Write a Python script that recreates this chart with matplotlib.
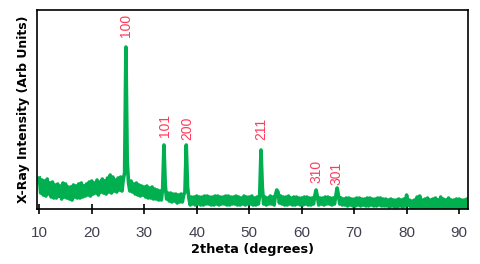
import numpy as np
import matplotlib.pyplot as plt

plt.rcParams['font.family'] = ['Liberation Sans', 'DejaVu Sans']

# intensity, 4 samples per degree (step 0.25) from 10 to 91.75
rows = [
    [31, 16, 29, 14], [28, 13, 30, 15], [26, 12, 27, 11], [24, 11, 25, 13],   # 10-13
    [23, 10, 26, 12], [25, 11, 22, 10], [22, 9, 24, 12], [23, 11, 25, 11],    # 14-17
    [26, 12, 23, 13], [25, 14, 27, 13], [28, 15, 26, 16], [29, 14, 27, 17],   # 18-21
    [30, 16, 28, 15], [31, 17, 34, 16], [32, 18, 29, 17], [31, 19, 32, 18],   # 22-25
    [30, 36, 162, 48], [26, 18, 28, 17], [25, 15, 26, 14], [24, 13, 23, 14],  # 26-29
    [22, 12, 23, 11], [21, 11, 22, 10], [20, 10, 19, 9], [18, 9, 20, 64],     # 30-33
    [24, 10, 16, 8], [16, 7, 15, 8], [15, 6, 14, 7], [15, 7, 14, 17],         # 34-37
    [64, 22, 11, 4], [12, 5, 12, 4], [13, 5, 12, 4], [12, 4, 13, 5],          # 38-41
    [13, 5, 12, 4], [12, 4, 13, 5], [13, 4, 12, 5], [12, 5, 13, 4],           # 42-45
    [13, 4, 12, 5], [12, 5, 13, 4], [12, 4, 11, 5], [13, 4, 12, 5],           # 46-49
    [12, 5, 13, 4], [11, 4, 12, 5], [14, 59, 22, 5], [12, 4, 11, 5],          # 50-53
    [13, 5, 12, 4], [14, 19, 17, 6], [13, 5, 12, 4], [12, 4, 13, 5],          # 54-57
    [11, 4, 12, 4], [12, 5, 11, 4], [11, 4, 12, 5], [12, 4, 11, 4],           # 58-61
    [11, 5, 13, 19], [12, 4, 11, 5], [11, 4, 12, 5], [12, 5, 11, 4],          # 62-65
    [11, 5, 13, 21], [14, 5, 11, 4], [10, 4, 11, 3], [11, 4, 10, 3],          # 66-69
    [10, 3, 11, 4], [11, 3, 10, 4], [10, 3, 11, 3], [11, 4, 10, 3],           # 70-73
    [10, 3, 11, 4], [11, 3, 10, 3], [10, 3, 9, 2], [10, 3, 9, 2],             # 74-77
    [9, 2, 10, 3], [9, 2, 10, 3], [14, 4, 9, 2], [8, 0, 9, 1],                # 78-81
    [12, 2, 13, 1], [9, 0, 10, 1], [11, 0, 9, 1], [10, 0, 11, 0],             # 82-85
    [9, 1, 12, 0], [10, 0, 9, 1], [11, 0, 9, 0], [9, 1, 10, 0],               # 86-89
    [10, 0, 9, 1], [9, 0, 10, 1],                                             # 90-91
]
intensity = np.array(rows).ravel()
two_theta = 10 + 0.25 * np.arange(len(intensity))

peak_labels = ['100', '101', '200', '211', '310', '301']
peak_x = [26.5, 33.9, 38.1, 52.3, 62.8, 66.7]
peak_label_y = [172, 72, 69, 69, 26, 24]

fig = plt.figure(figsize=(4.8, 2.64), dpi=100)
ax = fig.add_axes([0.0765, 0.2083, 0.8985, 0.7537])

ax.plot(two_theta, intensity, color='#00b050', linewidth=2.6)

for lab, x, y in zip(peak_labels, peak_x, peak_label_y):
    ax.text(x, y, lab, rotation=90, ha='center', va='bottom',
            color='#ff3b5c', fontsize=10)

ax.set_xlim(9.5, 91.7)
ax.set_ylim(0, 199)
ax.set_xticks(range(10, 91, 10))
ax.set_yticks([])
ax.tick_params(axis='x', direction='inout', length=6.5, width=1.2,
               pad=9, labelsize=11, labelcolor='#404050')
for s in ax.spines.values():
    s.set_linewidth(1.2)

ax.set_xlabel('2theta (degrees)', fontsize=9.3, fontweight='bold',
              family='DejaVu Sans', labelpad=2)
ax.set_ylabel('X-Ray Intensity (Arb Units)', fontsize=9, fontweight='bold',
              family='DejaVu Sans', labelpad=5)

fig.savefig('out.png', dpi=100)
